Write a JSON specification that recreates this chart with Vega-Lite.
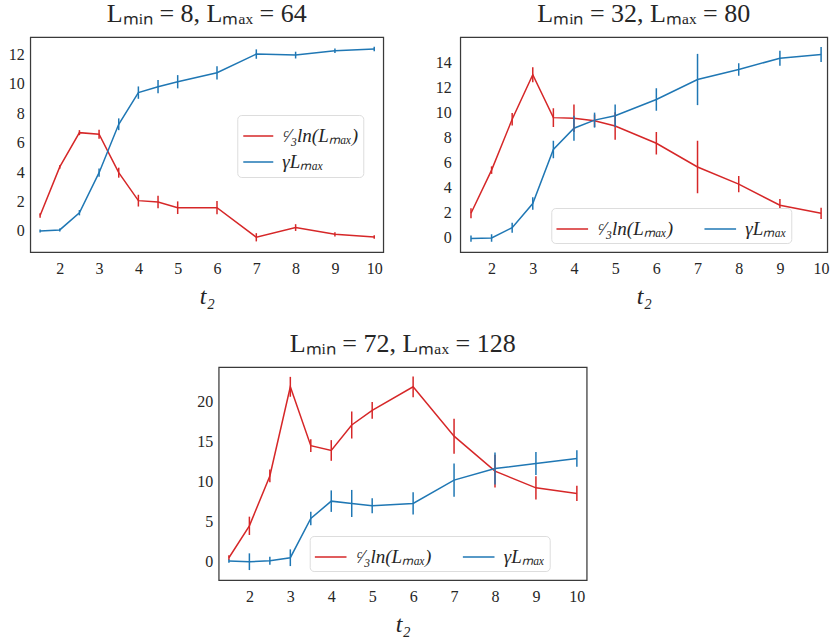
{
  "$schema": "https://vega.github.io/schema/vega-lite/v6.json",
  "padding": {"left": 0, "top": 0, "right": 0, "bottom": 0},
  "background": "white",
  "datasets": {
    "p1": [
      {"t": 1.5, "val": 1.05, "err": 0.15, "series": "ᶜ⁄₃ln(Lₘₐₓ)"},
      {"t": 2, "val": 4.35, "err": 0.12, "series": "ᶜ⁄₃ln(Lₘₐₓ)"},
      {"t": 2.5, "val": 6.68, "err": 0.17, "series": "ᶜ⁄₃ln(Lₘₐₓ)"},
      {"t": 3, "val": 6.57, "err": 0.3, "series": "ᶜ⁄₃ln(Lₘₐₓ)"},
      {"t": 3.5, "val": 3.96, "err": 0.34, "series": "ᶜ⁄₃ln(Lₘₐₓ)"},
      {"t": 4, "val": 2.06, "err": 0.4, "series": "ᶜ⁄₃ln(Lₘₐₓ)"},
      {"t": 4.5, "val": 1.97, "err": 0.43, "series": "ᶜ⁄₃ln(Lₘₐₓ)"},
      {"t": 5, "val": 1.58, "err": 0.43, "series": "ᶜ⁄₃ln(Lₘₐₓ)"},
      {"t": 6, "val": 1.58, "err": 0.45, "series": "ᶜ⁄₃ln(Lₘₐₓ)"},
      {"t": 7, "val": -0.43, "err": 0.28, "series": "ᶜ⁄₃ln(Lₘₐₓ)"},
      {"t": 8, "val": 0.23, "err": 0.23, "series": "ᶜ⁄₃ln(Lₘₐₓ)"},
      {"t": 9, "val": -0.23, "err": 0.14, "series": "ᶜ⁄₃ln(Lₘₐₓ)"},
      {"t": 10, "val": -0.41, "err": 0.12, "series": "ᶜ⁄₃ln(Lₘₐₓ)"},
      {"t": 1.5, "val": 0.0, "err": 0.1, "series": "γLₘₐₓ"},
      {"t": 2, "val": 0.07, "err": 0.1, "series": "γLₘₐₓ"},
      {"t": 2.5, "val": 1.24, "err": 0.18, "series": "γLₘₐₓ"},
      {"t": 3, "val": 3.96, "err": 0.28, "series": "γLₘₐₓ"},
      {"t": 3.5, "val": 7.25, "err": 0.4, "series": "γLₘₐₓ"},
      {"t": 4, "val": 9.4, "err": 0.42, "series": "γLₘₐₓ"},
      {"t": 4.5, "val": 9.8, "err": 0.45, "series": "γLₘₐₓ"},
      {"t": 5, "val": 10.14, "err": 0.45, "series": "γLₘₐₓ"},
      {"t": 6, "val": 10.75, "err": 0.45, "series": "γLₘₐₓ"},
      {"t": 7, "val": 12.02, "err": 0.32, "series": "γLₘₐₓ"},
      {"t": 8, "val": 11.95, "err": 0.23, "series": "γLₘₐₓ"},
      {"t": 9, "val": 12.25, "err": 0.15, "series": "γLₘₐₓ"},
      {"t": 10, "val": 12.36, "err": 0.15, "series": "γLₘₐₓ"}
    ],
    "p2": [
      {"t": 1.5, "val": 1.9, "err": 0.4, "series": "ᶜ⁄₃ln(Lₘₐₓ)"},
      {"t": 2, "val": 5.35, "err": 0.3, "series": "ᶜ⁄₃ln(Lₘₐₓ)"},
      {"t": 2.5, "val": 9.42, "err": 0.5, "series": "ᶜ⁄₃ln(Lₘₐₓ)"},
      {"t": 3, "val": 12.98, "err": 0.6, "series": "ᶜ⁄₃ln(Lₘₐₓ)"},
      {"t": 3.5, "val": 9.55, "err": 0.75, "series": "ᶜ⁄₃ln(Lₘₐₓ)"},
      {"t": 4, "val": 9.5, "err": 1.1, "series": "ᶜ⁄₃ln(Lₘₐₓ)"},
      {"t": 4.5, "val": 9.3, "err": 0.5, "series": "ᶜ⁄₃ln(Lₘₐₓ)"},
      {"t": 5, "val": 8.88, "err": 1.1, "series": "ᶜ⁄₃ln(Lₘₐₓ)"},
      {"t": 6, "val": 7.5, "err": 0.9, "series": "ᶜ⁄₃ln(Lₘₐₓ)"},
      {"t": 7, "val": 5.6, "err": 2.1, "series": "ᶜ⁄₃ln(Lₘₐₓ)"},
      {"t": 8, "val": 4.23, "err": 0.65, "series": "ᶜ⁄₃ln(Lₘₐₓ)"},
      {"t": 9, "val": 2.54, "err": 0.5, "series": "ᶜ⁄₃ln(Lₘₐₓ)"},
      {"t": 10, "val": 1.9, "err": 0.45, "series": "ᶜ⁄₃ln(Lₘₐₓ)"},
      {"t": 1.5, "val": -0.12, "err": 0.25, "series": "γLₘₐₓ"},
      {"t": 2, "val": -0.08, "err": 0.3, "series": "γLₘₐₓ"},
      {"t": 2.5, "val": 0.75, "err": 0.4, "series": "γLₘₐₓ"},
      {"t": 3, "val": 2.68, "err": 0.5, "series": "γLₘₐₓ"},
      {"t": 3.5, "val": 7.0, "err": 0.7, "series": "γLₘₐₓ"},
      {"t": 4, "val": 8.7, "err": 1.0, "series": "γLₘₐₓ"},
      {"t": 4.5, "val": 9.35, "err": 0.6, "series": "γLₘₐₓ"},
      {"t": 5, "val": 9.7, "err": 0.9, "series": "γLₘₐₓ"},
      {"t": 6, "val": 11.0, "err": 0.9, "series": "γLₘₐₓ"},
      {"t": 7, "val": 12.6, "err": 2.05, "series": "γLₘₐₓ"},
      {"t": 8, "val": 13.4, "err": 0.5, "series": "γLₘₐₓ"},
      {"t": 9, "val": 14.3, "err": 0.6, "series": "γLₘₐₓ"},
      {"t": 10, "val": 14.6, "err": 0.6, "series": "γLₘₐₓ"}
    ],
    "p3": [
      {"t": 1.5, "val": 0.42, "err": 0.3, "series": "ᶜ⁄₃ln(Lₘₐₓ)"},
      {"t": 2, "val": 4.43, "err": 1.15, "series": "ᶜ⁄₃ln(Lₘₐₓ)"},
      {"t": 2.5, "val": 10.7, "err": 0.8, "series": "ᶜ⁄₃ln(Lₘₐₓ)"},
      {"t": 3, "val": 21.9, "err": 1.25, "series": "ᶜ⁄₃ln(Lₘₐₓ)"},
      {"t": 3.5, "val": 14.5, "err": 0.8, "series": "ᶜ⁄₃ln(Lₘₐₓ)"},
      {"t": 4, "val": 13.9, "err": 1.3, "series": "ᶜ⁄₃ln(Lₘₐₓ)"},
      {"t": 4.5, "val": 17.1, "err": 1.7, "series": "ᶜ⁄₃ln(Lₘₐₓ)"},
      {"t": 5, "val": 18.95, "err": 1.05, "series": "ᶜ⁄₃ln(Lₘₐₓ)"},
      {"t": 6, "val": 21.9, "err": 1.3, "series": "ᶜ⁄₃ln(Lₘₐₓ)"},
      {"t": 7, "val": 15.7, "err": 2.2, "series": "ᶜ⁄₃ln(Lₘₐₓ)"},
      {"t": 8, "val": 11.3, "err": 2.05, "series": "ᶜ⁄₃ln(Lₘₐₓ)"},
      {"t": 9, "val": 9.2, "err": 1.45, "series": "ᶜ⁄₃ln(Lₘₐₓ)"},
      {"t": 10, "val": 8.5, "err": 0.95, "series": "ᶜ⁄₃ln(Lₘₐₓ)"},
      {"t": 1.5, "val": 0.0, "err": 0.2, "series": "γLₘₐₓ"},
      {"t": 2, "val": -0.08, "err": 1.05, "series": "γLₘₐₓ"},
      {"t": 2.5, "val": 0.04, "err": 0.5, "series": "γLₘₐₓ"},
      {"t": 3, "val": 0.42, "err": 1.05, "series": "γLₘₐₓ"},
      {"t": 3.5, "val": 5.36, "err": 0.85, "series": "γLₘₐₓ"},
      {"t": 4, "val": 7.53, "err": 1.35, "series": "γLₘₐₓ"},
      {"t": 4.5, "val": 7.24, "err": 1.7, "series": "γLₘₐₓ"},
      {"t": 5, "val": 6.95, "err": 0.95, "series": "γLₘₐₓ"},
      {"t": 6, "val": 7.24, "err": 1.4, "series": "γLₘₐₓ"},
      {"t": 7, "val": 10.17, "err": 2.1, "series": "γLₘₐₓ"},
      {"t": 8, "val": 11.63, "err": 2.0, "series": "γLₘₐₓ"},
      {"t": 9, "val": 12.26, "err": 1.45, "series": "γLₘₐₓ"},
      {"t": 10, "val": 12.89, "err": 1.05, "series": "γLₘₐₓ"}
    ]
  },
  "config": {
    "view": {"stroke": "#3a3a3a", "strokeWidth": 1.25},
    "font": "Liberation Serif",
    "axis": {
      "grid": false,
      "ticks": false,
      "domain": false,
      "labelFont": "Liberation Serif",
      "labelFontSize": 16,
      "labelColor": "#262626",
      "titleFont": "Liberation Serif",
      "titleFontSize": 24,
      "titleFontStyle": "italic",
      "titleFontWeight": "normal",
      "titleColor": "#262626"
    },
    "axisX": {"labelPadding": 8, "titlePadding": 8},
    "axisY": {"labelPadding": 6},
    "title": {
      "font": "Liberation Serif",
      "fontSize": 26,
      "fontWeight": "normal",
      "color": "#262626",
      "anchor": "middle",
      "offset": 10
    },
    "legend": {
      "symbolType": "stroke",
      "symbolSize": 1000,
      "symbolStrokeWidth": 1.5,
      "labelFont": "Liberation Serif",
      "labelFontSize": 19,
      "labelFontStyle": "italic",
      "labelColor": "#262626",
      "labelOffset": 8,
      "strokeColor": "#dddddd",
      "fillColor": "white",
      "cornerRadius": 4,
      "padding": 4,
      "rowPadding": 0,
      "columnPadding": 28,
      "title": null
    }
  },
  "center": true,
  "spacing": 21,
  "resolve": {"scale": {"color": "independent"}, "legend": {"color": "independent"}},
  "vconcat": [
    {
      "spacing": 10,
      "resolve": {"scale": {"color": "independent"}, "legend": {"color": "independent"}},
      "hconcat": [
        {
          "width": 353,
          "height": 215,
          "title": "Lₘᵢₙ = 8, Lₘₐₓ = 64",
          "data": {"name": "p1"},
          "encoding": {
            "x": {
              "field": "t",
              "type": "quantitative",
              "title": "t₂",
              "scale": {"domain": [1.25, 10.23], "nice": false, "zero": false},
              "axis": {"values": [2, 3, 4, 5, 6, 7, 8, 9, 10]}
            },
            "y": {
              "field": "val",
              "type": "quantitative",
              "title": null,
              "scale": {"domain": [-1.43, 13.18], "nice": false, "zero": false},
              "axis": {"values": [0, 2, 4, 6, 8, 10, 12], "minExtent": 29, "maxExtent": 29}
            },
            "color": {
              "field": "series",
              "type": "nominal",
              "scale": {"domain": ["ᶜ⁄₃ln(Lₘₐₓ)", "γLₘₐₓ"], "range": ["#d62728", "#1f77b4"]},
              "legend": {"orient": "none", "legendX": 207, "legendY": 78, "direction": "vertical", "symbolSize": 900, "padding": 5}
            }
          },
          "layer": [
            {"mark": {"type": "line", "strokeWidth": 1.5}},
            {
              "mark": {"type": "errorbar", "thickness": 1.5},
              "encoding": {"yError": {"field": "err"}}
            }
          ]
        },
        {
          "width": 367,
          "height": 215,
          "title": "Lₘᵢₙ = 32, Lₘₐₓ = 80",
          "data": {"name": "p2"},
          "encoding": {
            "x": {
              "field": "t",
              "type": "quantitative",
              "title": "t₂",
              "scale": {"domain": [1.24, 10.15], "nice": false, "zero": false},
              "axis": {"values": [2, 3, 4, 5, 6, 7, 8, 9, 10]}
            },
            "y": {
              "field": "val",
              "type": "quantitative",
              "title": null,
              "scale": {"domain": [-1.2, 16.0], "nice": false, "zero": false},
              "axis": {"values": [0, 2, 4, 6, 8, 10, 12, 14], "labelPadding": 9, "minExtent": 65, "maxExtent": 65}
            },
            "color": {
              "field": "series",
              "type": "nominal",
              "scale": {"domain": ["ᶜ⁄₃ln(Lₘₐₓ)", "γLₘₐₓ"], "range": ["#d62728", "#1f77b4"]},
              "legend": {"orient": "none", "legendX": 91, "legendY": 171, "direction": "horizontal"}
            }
          },
          "layer": [
            {"mark": {"type": "line", "strokeWidth": 1.5}},
            {
              "mark": {"type": "errorbar", "thickness": 1.5},
              "encoding": {"yError": {"field": "err"}}
            }
          ]
        }
      ]
    },
    {
      "width": 368,
      "height": 213,
      "title": "Lₘᵢₙ = 72, Lₘₐₓ = 128",
      "data": {"name": "p3"},
      "encoding": {
        "x": {
          "field": "t",
          "type": "quantitative",
          "title": "t₂",
          "scale": {"domain": [1.25, 10.24], "nice": false, "zero": false},
          "axis": {"values": [2, 3, 4, 5, 6, 7, 8, 9, 10]}
        },
        "color": {
          "field": "series",
          "type": "nominal",
          "scale": {"domain": ["ᶜ⁄₃ln(Lₘₐₓ)", "γLₘₐₓ"], "range": ["#d62728", "#1f77b4"]},
          "legend": {"orient": "none", "legendX": 91, "legendY": 169, "direction": "horizontal"}
        }
      },
      "resolve": {"axis": {"y": "independent"}},
      "layer": [
        {
          "mark": {"type": "line", "strokeWidth": 1.5},
          "encoding": {
            "y": {
              "field": "val",
              "type": "quantitative",
              "title": null,
              "scale": {"domain": [-2.38, 24.39], "nice": false, "zero": false},
              "axis": {"values": [0, 5, 10, 15, 20], "minExtent": 24, "maxExtent": 24}
            }
          }
        },
        {
          "mark": {"type": "errorbar", "thickness": 1.5},
          "encoding": {
            "y": {
              "field": "val",
              "type": "quantitative",
              "title": null,
              "scale": {"domain": [-2.38, 24.39], "nice": false, "zero": false},
              "axis": {"orient": "right", "values": [0, 5, 10, 15, 20], "labelOpacity": 0, "minExtent": 54, "maxExtent": 54}
            },
            "yError": {"field": "err"}
          }
        }
      ]
    }
  ]
}
